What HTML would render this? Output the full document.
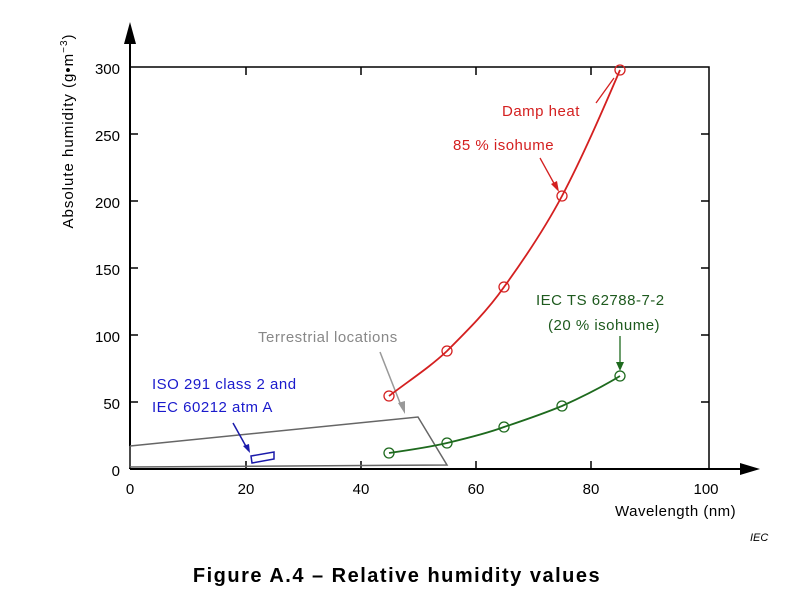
<!DOCTYPE html>
<html><head><style>body{margin:0;background:#fff}svg{display:block}text{font-family:"Liberation Sans",sans-serif}</style></head><body>
<svg width="800" height="597" viewBox="0 0 800 597">
<g stroke="#000" stroke-width="2" fill="none">
<line x1="130" y1="469" x2="130" y2="40"/>
<line x1="130" y1="469" x2="745" y2="469"/>
<polyline points="130,67 709,67 709,469" stroke-width="1.5"/>
</g>
<polygon points="130,22 124,44 136,44" fill="#000"/>
<polygon points="760,469 740,463 740,475" fill="#000"/>
<g stroke="#000" stroke-width="1.5">
<line x1="246" y1="469" x2="246" y2="461"/><line x1="361" y1="469" x2="361" y2="461"/><line x1="476" y1="469" x2="476" y2="461"/><line x1="591" y1="469" x2="591" y2="461"/>
<line x1="246" y1="67" x2="246" y2="75"/><line x1="361" y1="67" x2="361" y2="75"/><line x1="476" y1="67" x2="476" y2="75"/><line x1="591" y1="67" x2="591" y2="75"/>
<line x1="130" y1="134" x2="138" y2="134"/><line x1="130" y1="201" x2="138" y2="201"/><line x1="130" y1="268" x2="138" y2="268"/><line x1="130" y1="335" x2="138" y2="335"/><line x1="130" y1="402" x2="138" y2="402"/>
<line x1="709" y1="134" x2="701" y2="134"/><line x1="709" y1="201" x2="701" y2="201"/><line x1="709" y1="268" x2="701" y2="268"/><line x1="709" y1="335" x2="701" y2="335"/><line x1="709" y1="402" x2="701" y2="402"/>
</g>
<g font-size="15" fill="#000" text-anchor="end">
<text x="120" y="74">300</text><text x="120" y="141">250</text><text x="120" y="208">200</text><text x="120" y="275">150</text><text x="120" y="342">100</text><text x="120" y="409">50</text><text x="120" y="476">0</text>
</g>
<g font-size="15" fill="#000" text-anchor="middle">
<text x="130" y="494">0</text><text x="246" y="494">20</text><text x="361" y="494">40</text><text x="476" y="494">60</text><text x="591" y="494">80</text><text x="706" y="494">100</text>
</g>
<text x="615" y="516" font-size="15" letter-spacing="0.5">Wavelength  (nm)</text>
<text x="750" y="541" font-size="11" font-style="italic">IEC</text>
<text transform="translate(73,131) rotate(-90)" text-anchor="middle" font-size="15" letter-spacing="1">Absolute humidity  (g•m<tspan font-size="10" dy="-6">−3</tspan><tspan dy="6">)</tspan></text>
<text x="397" y="582" text-anchor="middle" font-size="20" font-weight="bold" letter-spacing="1.5">Figure A.4 – Relative humidity values</text>
<polyline points="130,446 418,417 447,465 130,467 130,446" fill="none" stroke="#666" stroke-width="1.5"/>
<polygon points="251,456 274,452 274,459 252,463" fill="none" stroke="#1a1aaa" stroke-width="1.5"/>
<line x1="233" y1="423" x2="248" y2="450" stroke="#1a1aaa" stroke-width="1.5"/>
<polygon points="250,453 243,446 249,444" fill="#1a1aaa"/>
<text x="152" y="389" font-size="15" fill="#1a1acc" letter-spacing="0.5">ISO 291 class 2 and</text>
<text x="152" y="412" font-size="15" fill="#1a1acc" letter-spacing="0.5">IEC 60212 atm A</text>
<text x="258" y="342" font-size="15" fill="#888" letter-spacing="0.5">Terrestrial locations</text>
<line x1="380" y1="352" x2="402" y2="408" stroke="#999" stroke-width="1.5"/>
<polygon points="405,414 398,403 405,401" fill="#999"/>
<path d="M389,396 C410,380 430,367 447,351 C468,330 488,310 504,287 C525,258 545,228 562,196 C582,158 602,112 620,70" fill="none" stroke="#d42020" stroke-width="1.8"/>
<g fill="none" stroke="#d42020" stroke-width="1.3"><circle cx="389" cy="396" r="5"/><circle cx="447" cy="351" r="5"/><circle cx="504" cy="287" r="5"/><circle cx="562" cy="196" r="5"/><circle cx="620" cy="70" r="5"/></g>
<text x="502" y="116" font-size="15" fill="#d42020" letter-spacing="0.5">Damp heat</text>
<text x="453" y="150" font-size="15" fill="#d42020" letter-spacing="0.5">85 % isohume</text>
<line x1="596" y1="103" x2="614" y2="78" stroke="#d42020" stroke-width="1.3"/>
<line x1="540" y1="158" x2="556" y2="187" stroke="#d42020" stroke-width="1.3"/>
<polygon points="559,192 551,184 557,181" fill="#d42020"/>
<path d="M389,453 C410,450 430,447 447,443 C468,438 488,433 504,427 C525,420 545,413 562,406 C582,397 602,387 620,376" fill="none" stroke="#1e6a1e" stroke-width="1.8"/>
<g fill="none" stroke="#1e6a1e" stroke-width="1.3"><circle cx="389" cy="453" r="5"/><circle cx="447" cy="443" r="5"/><circle cx="504" cy="427" r="5"/><circle cx="562" cy="406" r="5"/><circle cx="620" cy="376" r="5"/></g>
<text x="536" y="305" font-size="15" fill="#1e5a1e" letter-spacing="0.5">IEC TS 62788-7-2</text>
<text x="548" y="330" font-size="15" fill="#1e5a1e" letter-spacing="0.5">(20 % isohume)</text>
<line x1="620" y1="336" x2="620" y2="364" stroke="#1e6a1e" stroke-width="1.3"/>
<polygon points="620,371 616,362 624,362" fill="#1e6a1e"/>
</svg>
</body></html>
